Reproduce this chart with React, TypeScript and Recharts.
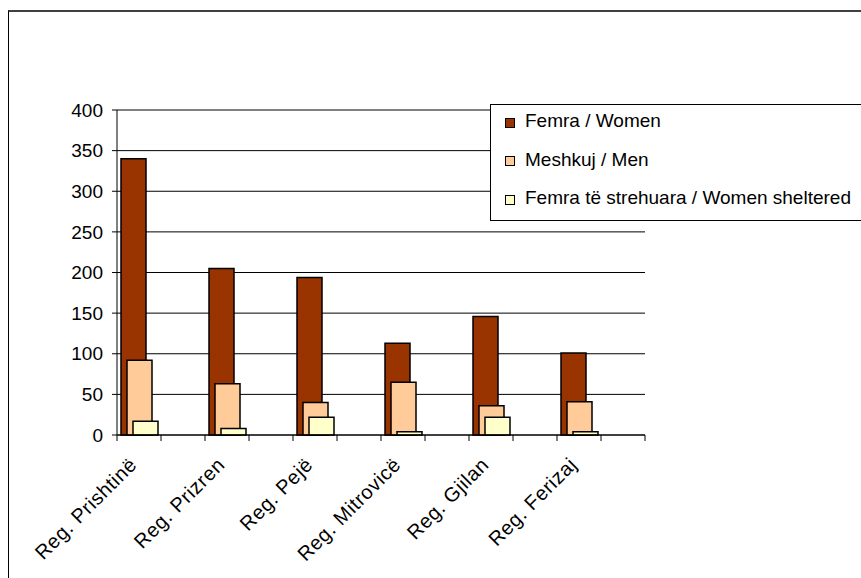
import { BarChart, Bar, XAxis, YAxis, CartesianGrid, Legend, ReferenceLine } from 'recharts';

const regions = ['Reg. Prishtinë', 'Reg. Prizren', 'Reg. Pejë', 'Reg. Mitrovicë', 'Reg. Gjilan', 'Reg. Ferizaj'];
const women = [340, 205, 194, 113, 146, 101];
const men = [92, 63, 40, 65, 36, 41];
const sheltered = [17, 8, 22, 4, 22, 4];
const yTicks = [0, 50, 100, 150, 200, 250, 300, 350, 400];

const series = [
  { key: 'women', name: 'Femra / Women', color: '#993300' },
  { key: 'men', name: 'Meshkuj / Men', color: '#FFCC99' },
  { key: 'sheltered', name: 'Femra të strehuara / Women sheltered', color: '#FFFFCC' },
];

// every region is followed by an empty category, as in the Excel original
const rows = regions.flatMap((region, i) => [
  { region, women: women[i], men: men[i], sheltered: sheltered[i] },
  { region: '' },
]);

const W = 861;
const H = 578;
const margin = { top: 110, right: 216, left: 0, bottom: 0 };
const yAxisWidth = 117;
const band = (W - margin.left - margin.right - yAxisWidth) / rows.length;

const font = '"Liberation Sans", Arial, sans-serif';

// Excel puts the tick marks between categories, not under them
const RegionTick = ({ x, y, payload, index }: any) => (
  <g>
    <line x1={x - band / 2} x2={x - band / 2} y1={y} y2={y + 6} stroke='#000' />
    {index === rows.length - 1 && (
      <line x1={x + band / 2} x2={x + band / 2} y1={y} y2={y + 6} stroke='#000' />
    )}
    {payload.value && (
      <text
        transform={`translate(${x - 1},${y + 31}) rotate(-45)`}
        textAnchor='end'
        fontSize={20}
        letterSpacing={0.6}
        fontFamily={font}
        fill='#000'
      >
        {payload.value}
      </text>
    )}
  </g>
);

const LegendBox = () => (
  <div
    style={{
      position: 'relative',
      width: 400,
      height: 117,
      boxSizing: 'border-box',
      border: '1px solid #000',
      background: '#fff',
      fontFamily: font,
      fontSize: 19,
      color: '#000',
    }}
  >
    {series.map((s, i) => (
      <div
        key={s.key}
        style={{
          position: 'absolute',
          left: 14,
          top: -3 + 38.5 * i,
          height: 38,
          lineHeight: '38px',
          whiteSpace: 'nowrap',
          display: 'flex',
          alignItems: 'center',
        }}
      >
        <span
          style={{
            display: 'inline-block',
            width: 8,
            height: 8,
            border: '1px solid #000',
            background: s.color,
            marginRight: 10,
            marginTop: 3,
          }}
        />
        <span>{s.name}</span>
      </div>
    ))}
  </div>
);

export default function App() {
  return (
    <div style={{ position: 'absolute', left: 0, top: 0, width: W, height: H, overflow: 'hidden', background: '#fff' }}>
      <div
        style={{
          position: 'absolute',
          left: 8,
          top: 10,
          width: 900,
          height: 600,
          borderTop: '2px solid #404040',
          borderLeft: '1px solid #000',
        }}
      />
      <div style={{ position: 'absolute', left: 0, top: 0 }}>
        <BarChart width={W} height={H} data={rows} margin={margin} barGap={-19}>
          <CartesianGrid vertical={false} stroke='#000' />
          <XAxis
            dataKey='region'
            height={143}
            axisLine={{ stroke: '#000' }}
            tickLine={false}
            tickSize={0}
            tickMargin={0}
            interval={0}
            tick={<RegionTick />}
          />
          <YAxis
            domain={[0, 400]}
            ticks={yTicks}
            interval={0}
            width={yAxisWidth}
            tickSize={5}
            tickMargin={9}
            stroke='#000'
            tick={{ fontSize: 19, fill: '#000', fontFamily: font }}
          />
          <YAxis
            yAxisId='edge'
            orientation='right'
            domain={[0, 400]}
            allowDataOverflow
            width={0}
            tick={false}
            tickLine={false}
            axisLine={{ stroke: '#808080' }}
          />
          <ReferenceLine y={400} stroke='#808080' />
          <Legend
            layout='horizontal'
            verticalAlign='middle'
            align='center'
            content={<LegendBox />}
            wrapperStyle={{ left: 490, top: 104, width: 400, height: 117 }}
          />
          {series.map((s) => (
            <Bar
              key={s.key}
              dataKey={s.key}
              name={s.name}
              fill={s.color}
              stroke='#000'
              strokeWidth={1.5}
              barSize={25}
              isAnimationActive={false}
            />
          ))}
        </BarChart>
      </div>
    </div>
  );
}
